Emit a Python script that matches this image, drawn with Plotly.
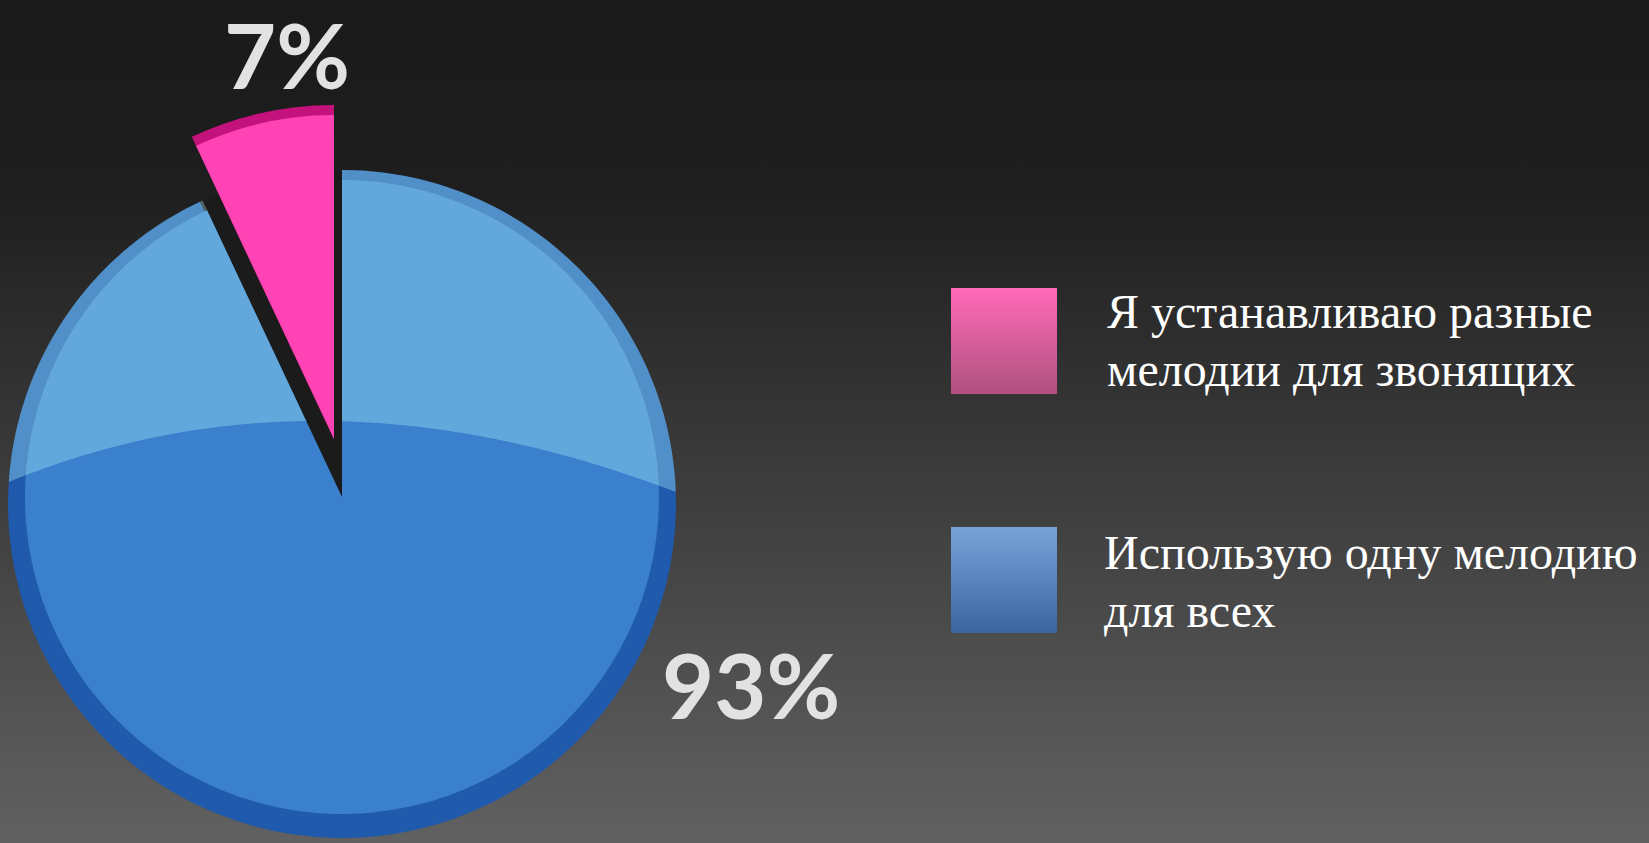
import base64
import math
import plotly.graph_objects as go

# ---------------- data ----------------
labels = ["Я устанавливаю разные<br>мелодии для звонящих",
          "Использую одну мелодию<br>для всех"]
values = [7, 93]
pct_labels = [f"{v}%" for v in values]

# ---------------- style ----------------
W, H = 1649, 843
TRANSP = "rgba(0,0,0,0)"
pink_rim, pink_main = "#c4127c", "#ff42b4"
blue_rim, blue_main = "#1f5aac", "#3a80cc"
gap_dark = "#1b1b1b"
legend_grad = [("#ff6ab8", "#b0517f"), ("#78a3d9", "#3c659f")]


def px_dom(cx, cy, r):
    return dict(x=[(cx - r) / W, (cx + r) / W],
                y=[(H - (cy + r)) / H, (H - (cy - r)) / H])


def svg_uri(svg):
    return "data:image/svg+xml;base64," + base64.b64encode(svg.encode()).decode()


def vgrad_svg(stops):
    s = "".join(f'<stop offset="{o}" stop-color="{c}"/>' for o, c in stops)
    return svg_uri(
        '<svg xmlns="http://www.w3.org/2000/svg" width="100" height="100" '
        'preserveAspectRatio="none" viewBox="0 0 100 100">'
        f'<defs><linearGradient id="g" x1="0" y1="0" x2="0" y2="1">{s}</linearGradient></defs>'
        '<rect width="100" height="100" fill="url(#g)"/></svg>')


fig = go.Figure()

# slices drawn clockwise from 12 o'clock in reversed order so that the
# small slice ends at 12 o'clock (sits just left of the top)
order = [1, 0]
pie_common = dict(labels=[labels[i] for i in order], values=[values[i] for i in order],
                  sort=False, direction="clockwise", rotation=0,
                  textinfo="none", showlegend=False)


def cols(pink, blue):
    c = [pink, blue]
    return [c[i] for i in order]


# dark cut-out left behind by the exploded slice
fig.add_trace(go.Pie(**pie_common, marker=dict(colors=cols(gap_dark, TRANSP)),
                     domain=px_dom(342, 504, 334), hoverinfo="skip"))
# main (93%) slice: outer rim + inner body
fig.add_trace(go.Pie(**pie_common, marker=dict(colors=cols(TRANSP, blue_rim)),
                     domain=px_dom(342, 504, 334), hoverinfo="label+percent"))
fig.add_trace(go.Pie(**pie_common, marker=dict(colors=cols(TRANSP, blue_main)),
                     domain=px_dom(342, 497, 317), hoverinfo="label+percent"))
# exploded (7%) slice: rim + body
fig.add_trace(go.Pie(**pie_common, marker=dict(colors=cols(pink_rim, TRANSP)),
                     domain=px_dom(334, 439, 334), hoverinfo="label+percent"))
fig.add_trace(go.Pie(**pie_common, marker=dict(colors=cols(pink_main, TRANSP)),
                     domain=px_dom(334, 439, 324), hoverinfo="label+percent"))

# ---- glossy highlight over the upper part of the blue disc (incl. rim) ----
ax, ay, ar = 342, 504, 334      # outer disc
cx, cy = 342, 497               # apex of inner body (for clipping at the gap)
yl, yr = 482, 492
xl = ax - math.sqrt(ar * ar - (yl - ay) ** 2)
xr = ax + math.sqrt(ar * ar - (yr - ay) ** 2)
a0 = math.atan2(yl - ay, xl - ax)
a1 = math.atan2(yr - ay, xr - ax)
poly = []
n = 160
for i in range(n + 1):
    a = a0 + (a1 - a0) * i / n
    poly.append((ax + ar * math.cos(a), ay + ar * math.sin(a)))
qc = (318, 355)
for i in range(1, n):
    t = i / n
    x = (1 - t) ** 2 * xr + 2 * (1 - t) * t * qc[0] + t * t * xl
    y = (1 - t) ** 2 * yr + 2 * (1 - t) * t * qc[1] + t * t * yl
    poly.append((x, y))


def clip(polygon, inside, inter):
    out = []
    for i in range(len(polygon)):
        cur, prev = polygon[i], polygon[i - 1]
        if inside(cur):
            if not inside(prev):
                out.append(inter(prev, cur))
            out.append(cur)
        elif inside(prev):
            out.append(inter(prev, cur))
    return out


theta = 2 * math.pi * values[0] / sum(values)
dx, dy = -math.sin(theta), -math.cos(theta)


def side_left(p):
    return dx * (p[1] - cy) - dy * (p[0] - cx)


def inter_left(p, q):
    s1, s2 = side_left(p), side_left(q)
    t = s1 / (s1 - s2)
    return (p[0] + t * (q[0] - p[0]), p[1] + t * (q[1] - p[1]))


def inter_right(p, q):
    t = (cx - p[0]) / (q[0] - p[0])
    return (cx, p[1] + t * (q[1] - p[1]))


piece_l = clip(poly, lambda p: side_left(p) < 0, inter_left)
piece_r = clip(poly, lambda p: p[0] >= cx, inter_right)


def P(x, y):
    return f"{x / W:.5f},{1 - y / H:.5f}"


def to_path(pts):
    return "M " + P(*pts[0]) + " " + " ".join("L " + P(*p) for p in pts[1:]) + " Z"


shapes = [dict(type="path", path=to_path(pc), xref="paper", yref="paper",
               fillcolor="rgba(180,245,255,0.34)", line=dict(width=0), layer="above")
          for pc in (piece_l, piece_r) if len(pc) > 2]

# background + legend swatches as gradient images
images = [dict(source=vgrad_svg([(0, "#1a1a1a"), (0.22, "#1e1e1e"), (1, "#616161")]),
               xref="paper", yref="paper", x=0, y=1, sizex=1, sizey=1,
               sizing="stretch", xanchor="left", yanchor="top", layer="below")]
sw_top = [288, 527]
for i, (c1, c2) in enumerate(legend_grad):
    images.append(dict(source=vgrad_svg([(0, c1), (1, c2)]), xref="paper", yref="paper",
                       x=951 / W, y=1 - sw_top[i] / H, sizex=106 / W, sizey=106 / H,
                       sizing="stretch", xanchor="left", yanchor="top", layer="above"))

annotations = []
# legend texts
line_base = [(1105, 327), (1102, 568)]
for i, lab in enumerate(labels):
    x0, b0 = line_base[i]
    for j, ln in enumerate(lab.split("<br>")):
        yc = b0 + j * 58 - 16
        annotations.append(dict(text=ln, x=x0 / W, y=1 - yc / H, xref="paper", yref="paper",
                                xanchor="left", yanchor="middle", showarrow=False,
                                font=dict(family="Liberation Serif", size=48, color="#ffffff")))
# percent labels
pct_pos = [(287, 54), (751, 684)]
for i, t in enumerate(pct_labels):
    x, y = pct_pos[i]
    annotations.append(dict(text=t, x=x / W, y=1 - y / H, xref="paper", yref="paper",
                            xanchor="center", yanchor="middle", showarrow=False,
                            font=dict(family="Lato", size=90, weight=700, color="#e2e2e2")))

fig.update_layout(width=W, height=H, margin=dict(l=0, r=0, t=0, b=0, pad=0),
                  paper_bgcolor="#2a2a2a", plot_bgcolor="#2a2a2a",
                  shapes=shapes, images=images, annotations=annotations)

fig.write_html("out.html")
